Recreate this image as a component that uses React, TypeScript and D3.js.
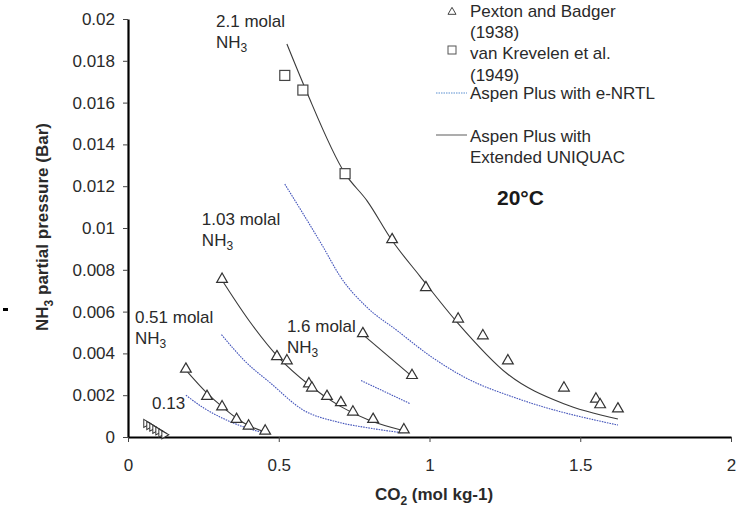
import React, { useEffect, useRef } from 'react';
import * as d3 from 'd3';

type Pt = [number, number];

// Pexton and Badger (1938) measurements, CO2 (mol/kg) vs NH3 partial pressure (bar)
const pextonM013: Pt[] = [[0.06, 0.0006], [0.07, 0.0005], [0.08, 0.00042], [0.09, 0.00032], [0.1, 0.00024], [0.11, 0.00014], [0.12, 0.00006]];
const pextonM051: Pt[] = [[0.192, 0.0032], [0.262, 0.0019], [0.312, 0.0014], [0.36, 0.0008], [0.4, 0.00048], [0.455, 0.00024]];
const pextonM103: Pt[] = [[0.312, 0.0075], [0.494, 0.0038], [0.527, 0.0036], [0.6, 0.0025], [0.61, 0.0023], [0.66, 0.0019], [0.706, 0.0016], [0.746, 0.00115], [0.813, 0.0008], [0.915, 0.0003]];
const pextonM16: Pt[] = [[0.779, 0.0049], [0.942, 0.0029]];
const pextonM21: Pt[] = [[0.876, 0.0094], [0.988, 0.0071], [1.095, 0.0056], [1.177, 0.0048], [1.26, 0.0036], [1.446, 0.0023], [1.552, 0.00177], [1.566, 0.0015], [1.625, 0.0013]];

// van Krevelen et al. (1949)
const krevelen: Pt[] = [[0.52, 0.0173], [0.58, 0.0166], [0.72, 0.0126]];

// Aspen Plus with Extended UNIQUAC
const uniquacM013: Pt[] = [[0.06, 0.00065], [0.09, 0.00034], [0.12, 0.00007]];
const uniquacM051: Pt[] = [[0.192, 0.0032], [0.262, 0.0021], [0.312, 0.00145], [0.36, 0.0009], [0.4, 0.00055], [0.455, 0.00024]];
const uniquacM103: Pt[] = [[0.312, 0.0075], [0.4, 0.0056], [0.5, 0.0038], [0.6, 0.0025], [0.7, 0.0015], [0.8, 0.0008], [0.915, 0.0003]];
const uniquacM16: Pt[] = [[0.779, 0.0049], [0.942, 0.0029]];
const uniquacM21: Pt[] = [[0.527, 0.0188], [0.59, 0.0166], [0.72, 0.0126], [0.793, 0.0113], [0.876, 0.0094], [0.968, 0.0077], [1.091, 0.0055], [1.26, 0.003], [1.443, 0.0016], [1.625, 0.00086]];

// Aspen Plus with e-NRTL
const enrtlM013: Pt[] = [[0.06, 0.0006], [0.09, 0.0003], [0.12, 0.00005]];
const enrtlM051: Pt[] = [[0.192, 0.002], [0.25, 0.0014], [0.305, 0.00096], [0.38, 0.0005], [0.45, 0.0002]];
const enrtlM103: Pt[] = [[0.31, 0.0049], [0.39, 0.0036], [0.471, 0.0026], [0.58, 0.0013], [0.7, 0.0007], [0.8, 0.00043], [0.91, 0.0002]];
const enrtlM16: Pt[] = [[0.773, 0.0027], [0.935, 0.0016]];
const enrtlM21: Pt[] = [[0.52, 0.0121], [0.58, 0.0107], [0.647, 0.0091], [0.703, 0.0077], [0.793, 0.0062], [0.892, 0.0051], [1.0, 0.0039], [1.111, 0.0029], [1.3, 0.0018], [1.625, 0.00057]];

const xTicks = [0, 0.5, 1, 1.5, 2];
const yTicks = [0, 0.002, 0.004, 0.006, 0.008, 0.01, 0.012, 0.014, 0.016, 0.018, 0.02];

const seriesLabels = [
  { text: '2.1 molal', x: 0.292, y: 0.0196, nh3: true },
  { text: '1.03 molal', x: 0.245, y: 0.01014, nh3: true },
  { text: '0.51 molal', x: 0.023, y: 0.00545, nh3: true },
  { text: '1.6 molal', x: 0.527, y: 0.00502, nh3: true },
  { text: '0.13', x: 0.08, y: 0.00134, nh3: false },
];

const FONT = '"Liberation Sans", Arial, sans-serif';
const INK = '#2a2a2a';

export default function App() {
  const svgRef = useRef<SVGSVGElement>(null);

  useEffect(() => {
    if (!svgRef.current) return;
    const svg = d3.select(svgRef.current);
    svg.selectAll('*').remove();

    const x = d3.scaleLinear().domain([0, 2]).range([128, 731]);
    const y = d3.scaleLinear().domain([0, 0.02]).range([437, 19]);

    const line = d3
      .line<Pt>()
      .x(d => x(d[0]))
      .y(d => y(d[1]))
      .curve(d3.curveMonotoneX);

    // stray mark left of the axis title
    svg.append('rect').attr('x', 3).attr('y', 308).attr('width', 5).attr('height', 3).attr('fill', '#000');

    // Y axis
    svg
      .append('g')
      .attr('transform', `translate(${x(0)},0)`)
      .call(d3.axisLeft(y).tickValues(yTicks).tickSize(5).tickSizeOuter(0).tickPadding(8).tickFormat(d => String(+d)))
      .call(g => g.select('.domain').attr('stroke', '#000').attr('stroke-width', 2.2))
      .call(g => g.selectAll('.tick line').attr('stroke', '#444'))
      .call(g => g.selectAll('.tick text').attr('fill', INK).style('font-size', '17px').style('font-family', FONT));

    // X axis
    svg
      .append('g')
      .attr('transform', `translate(0,${y(0)})`)
      .call(d3.axisBottom(x).tickValues(xTicks).tickSize(5).tickSizeOuter(0).tickPadding(17).tickFormat(d => String(+d)))
      .call(g => g.select('.domain').attr('stroke', '#000').attr('stroke-width', 2.2))
      .call(g => g.selectAll('.tick line').attr('stroke', '#444'))
      .call(g => g.selectAll('.tick text').attr('fill', INK).style('font-size', '17px').style('font-family', FONT));

    // model curves
    const blue = '#4455bb';
    const grey = '#3a3a3a';
    [enrtlM013, enrtlM051, enrtlM103, enrtlM16, enrtlM21].forEach(s => {
      svg.append('path').attr('d', line(s)!).attr('fill', 'none').attr('stroke', blue)
        .attr('stroke-width', 1.1).attr('stroke-dasharray', '1.6,1');
    });
    [uniquacM013, uniquacM051, uniquacM103, uniquacM16, uniquacM21].forEach(s => {
      svg.append('path').attr('d', line(s)!).attr('fill', 'none').attr('stroke', grey).attr('stroke-width', 1.1);
    });

    // triangles
    const tri = d3.symbol().type(d3.symbolTriangle).size(50);
    const triSmall = d3.symbol().type(d3.symbolTriangle).size(28);
    const pext = [...pextonM051, ...pextonM103, ...pextonM16, ...pextonM21];
    svg.append('g').selectAll('path').data(pext).enter().append('path')
      .attr('d', tri()!)
      .attr('transform', d => `translate(${x(d[0])},${y(d[1]) - 1})`)
      .attr('fill', 'white').attr('stroke', '#333').attr('stroke-width', 1.2);
    svg.append('g').selectAll('path').data(pextonM013).enter().append('path')
      .attr('d', triSmall()!)
      .attr('transform', d => `translate(${x(d[0])},${y(d[1]) - 1}) rotate(-30)`)
      .attr('fill', 'white').attr('stroke', '#333').attr('stroke-width', 1);

    // squares
    svg.append('g').selectAll('rect').data(krevelen).enter().append('rect')
      .attr('x', d => x(d[0]) - 5).attr('y', d => y(d[1]) - 5)
      .attr('width', 10).attr('height', 10)
      .attr('fill', 'white').attr('stroke', '#444').attr('stroke-width', 1.2);

    // series labels
    seriesLabels.forEach(l => {
      svg.append('text').attr('x', x(l.x)).attr('y', y(l.y))
        .style('font-family', FONT).style('font-size', '17px').attr('fill', INK)
        .text(l.text);
      if (l.nh3) {
        const t2 = svg.append('text').attr('x', x(l.x)).attr('y', y(l.y) + 21)
          .style('font-family', FONT).style('font-size', '17px').attr('fill', INK);
        t2.append('tspan').text('NH');
        t2.append('tspan').attr('dy', 4).style('font-size', '12px').text('3');
      }
    });

    // legend
    const lg = svg.append('g').style('font-family', FONT).style('font-size', '17px').attr('fill', INK);
    lg.append('path').attr('d', triSmall()!).attr('transform', 'translate(452,12)')
      .attr('fill', 'white').attr('stroke', '#444').attr('stroke-width', 1);
    lg.append('text').attr('x', 470).attr('y', 17).text('Pexton and Badger');
    lg.append('text').attr('x', 470).attr('y', 38).text('(1938)');
    lg.append('rect').attr('x', 448).attr('y', 46).attr('width', 8).attr('height', 8)
      .attr('fill', 'white').attr('stroke', '#555').attr('stroke-width', 1);
    lg.append('text').attr('x', 470).attr('y', 59).text('van Krevelen et al.');
    lg.append('text').attr('x', 470).attr('y', 81).text('(1949)');
    lg.append('line').attr('x1', 436).attr('x2', 467).attr('y1', 93).attr('y2', 93)
      .attr('stroke', '#5a8fd0').attr('stroke-width', 1).attr('stroke-dasharray', '1.5,1');
    lg.append('text').attr('x', 470).attr('y', 99).text('Aspen Plus with e-NRTL');
    lg.append('line').attr('x1', 436).attr('x2', 467).attr('y1', 135).attr('y2', 135)
      .attr('stroke', '#777').attr('stroke-width', 1.2);
    lg.append('text').attr('x', 470).attr('y', 142).text('Aspen Plus with');
    lg.append('text').attr('x', 470).attr('y', 163).text('Extended UNIQUAC');
    lg.append('text').attr('x', 497).attr('y', 205).style('font-size', '21px').style('font-weight', 'bold')
      .attr('fill', '#1a1a1a').text('20°C');

    // axis titles
    const yt = svg.append('text').attr('transform', 'translate(48,227) rotate(-90)')
      .attr('text-anchor', 'middle').style('font-family', FONT).style('font-size', '17px')
      .style('font-weight', 'bold').attr('fill', INK);
    yt.append('tspan').text('NH');
    yt.append('tspan').attr('dy', 5).style('font-size', '12px').text('3');
    yt.append('tspan').attr('dy', -5).text(' partial pressure (Bar)');

    const xt = svg.append('text').attr('x', 434).attr('y', 500)
      .attr('text-anchor', 'middle').style('font-family', FONT).style('font-size', '17px')
      .style('font-weight', 'bold').attr('fill', INK);
    xt.append('tspan').text('CO');
    xt.append('tspan').attr('dy', 5).style('font-size', '12px').text('2');
    xt.append('tspan').attr('dy', -5).text(' (mol kg-1)');
  }, []);

  return (
    <svg
      ref={svgRef}
      width={751}
      height={510}
      style={{ position: 'absolute', left: 0, top: 0, background: 'white' }}
    />
  );
}
